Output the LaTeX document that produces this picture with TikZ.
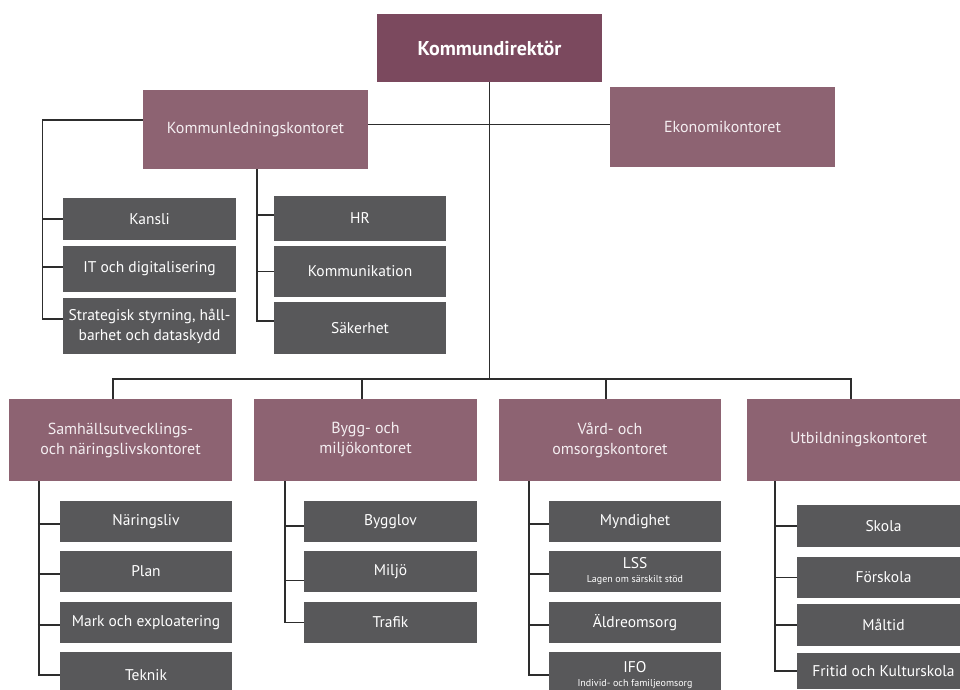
\documentclass[tikz,border=0pt]{standalone}
\usepackage{fontspec}
\setmainfont{PT Sans}
\definecolor{plum}{RGB}{141,99,114}
\definecolor{plumdark}{RGB}{123,73,94}
\definecolor{boxgray}{RGB}{88,88,90}
\definecolor{linegray}{RGB}{45,45,45}
\definecolor{lighttext}{RGB}{244,238,241}
\tikzset{
  base/.style={inner sep=0pt, align=center},
  topbox/.style={base, fill=plumdark, text=white, font=\bfseries\fontsize{20}{24}\selectfont},
  plumbox/.style={base, fill=plum, text=lighttext, font=\fontsize{16}{20}\selectfont, minimum width=223pt, minimum height=82pt},
  graybox/.style={base, fill=boxgray, text=white, font=\fontsize{15.5}{20}\selectfont, minimum width=172pt, minimum height=41pt},
  conn/.style={draw=linegray, line width=1.1pt}
}
\begin{document}
\begin{tikzpicture}[x=1pt,y=-1pt]
\useasboundingbox[fill=white] (0,0) rectangle (960,689);
% top level
\node[topbox, minimum width=225pt, minimum height=68pt] (kd) at (489.5,48) {Kommundirektör};
\node[plumbox, minimum width=225pt, minimum height=79pt] (kl) at (255.5,129.5) {Kommunledningskontoret};
\node[plumbox, minimum width=225pt, minimum height=80pt] (ek) at (722.5,127) {Ekonomikontoret};
% kommunledning children
\node[graybox, minimum width=173pt, minimum height=42pt] (kansli) at (149.5,219) {Kansli};
\node[graybox, minimum width=173pt, minimum height=46pt] (it) at (149.5,269) {IT och digitalisering};
\node[graybox, minimum width=173pt, minimum height=56pt] (strat) at (149.5,326) {Strategisk styrning, håll-\\barhet och dataskydd};
\node[graybox, minimum height=45pt] (hr) at (360,218.5) {HR};
\node[graybox, minimum height=51pt] (komm) at (360,271.5) {Kommunikation};
\node[graybox, minimum height=52pt] (sak) at (360,328) {Säkerhet};
% offices
\node[plumbox] (sam) at (120.5,440) {Samhällsutvecklings-\\och näringslivskontoret};
\node[plumbox] (bygg) at (365.5,440) {Bygg- och\\miljökontoret};
\node[plumbox, minimum width=222pt] (vard) at (610,440) {Vård- och\\omsorgskontoret};
\node[plumbox] (utb) at (858.5,440) {Utbildningskontoret};
% samhall children
\node[graybox] (nar) at (146,521.5) {Näringsliv};
\node[graybox] (plan) at (146,571.5) {Plan};
\node[graybox] (mark) at (146,622.5) {Mark och exploatering};
\node[graybox, minimum height=46pt] (tek) at (146,675) {Teknik};
% bygg children
\node[graybox, minimum width=173pt] (bl) at (390.5,521.5) {Bygglov};
\node[graybox, minimum width=173pt] (mil) at (390.5,571.5) {Miljö};
\node[graybox, minimum width=173pt] (tra) at (390.5,622.5) {Trafik};
% vard children
\node[graybox] (myn) at (635,521.5) {Myndighet};
\node[graybox] (lss) at (635,571.5) {LSS\\[-6pt]\fontsize{10}{12}\selectfont Lagen om särskilt stöd};
\node[graybox] (ald) at (635,622.5) {Äldreomsorg};
\node[graybox, minimum height=46pt] (ifo) at (635,675) {IFO\\[-6pt]\fontsize{10}{12}\selectfont Individ- och familjeomsorg};
% utb children
\node[graybox, minimum width=173pt, minimum height=42pt] (sko) at (883.5,526) {Skola};
\node[graybox, minimum width=173pt] (for) at (883.5,577.5) {Förskola};
\node[graybox, minimum width=173pt, minimum height=42pt] (mal) at (883.5,625) {Måltid};
\node[graybox, minimum width=173pt, minimum height=36pt] (fri) at (883.5,671) {Fritid och Kulturskola};
% connectors top
\coordinate (bus) at (489,379);
\draw[conn] (kd.south) -- (kd.south |- bus);
\draw[conn] ([yshift=5pt]kl.east) -- ([yshift=5pt]kl.east -| ek.west);
\draw[conn] ([yshift=9.5pt]kl.west) -| ([xshift=-20pt,yshift=7pt]strat.west) -- ([yshift=7pt]strat.west);
\draw[conn] ([xshift=-20pt]kansli.west) -- (kansli.west);
\draw[conn] ([xshift=-20pt,yshift=2pt]it.west) -- ([yshift=2pt]it.west);
\draw[conn] ([xshift=1.5pt]kl.south) |- ([yshift=7pt]sak.west);
\draw[conn] ([xshift=-17pt,yshift=3.5pt]hr.west) -- ([yshift=3.5pt]hr.west);
\draw[conn] ([xshift=-17pt]komm.west) -- (komm.west);
% bus
\draw[conn] ([xshift=-7.5pt]sam.north) |- (bus) -| ([xshift=-7.5pt]utb.north);
\draw[conn] ([xshift=-3.5pt]bygg.north) -- ([xshift=-3.5pt]bygg.north |- bus);
\draw[conn] ([xshift=-4pt]vard.north) -- ([xshift=-4pt]vard.north |- bus);
% samhall
\draw[conn] ([xshift=-81.5pt]sam.south) |- (tek.west);
\foreach \n in {nar,plan,mark}{\draw[conn] ([xshift=-22pt,yshift=-2.5pt]\n.west) -- ([yshift=-2.5pt]\n.west);}
% bygg
\draw[conn] ([xshift=-80.5pt]bygg.south) |- (tra.west);
\draw[conn] ([xshift=-19pt,yshift=-4.5pt]bl.west) -- ([yshift=-4.5pt]bl.west);
\draw[conn] ([xshift=-19pt,yshift=-9pt]mil.west) -- ([yshift=-9pt]mil.west);
% vard
\draw[conn] ([xshift=-81pt]vard.south) |- (ifo.west);
\foreach \n in {myn,lss,ald}{\draw[conn] ([xshift=-20pt,yshift=-2.5pt]\n.west) -- ([yshift=-2.5pt]\n.west);}
% utb
\draw[conn] ([xshift=-83.5pt]utb.south) |- (fri.west);
\foreach \n in {sko,for,mal}{\draw[conn] ([xshift=-22pt]\n.west) -- (\n.west);}
\end{tikzpicture}
\end{document}
